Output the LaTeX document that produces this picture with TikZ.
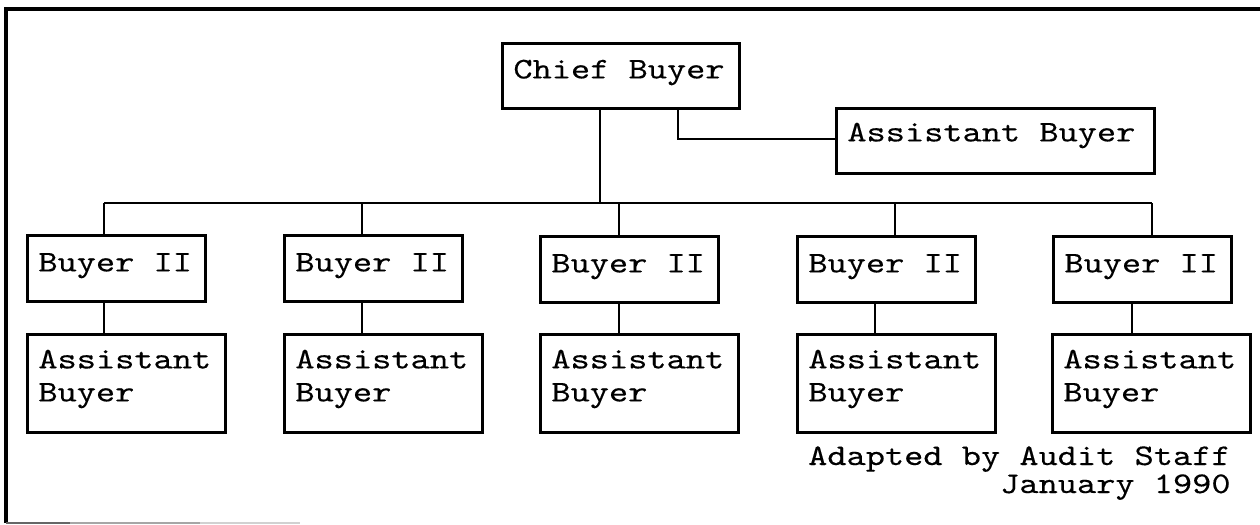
\documentclass[tikz,border=0pt]{standalone}
\usepackage{fontspec}
% typewriter face, widened to the usual Courier pitch of 9.6pt
\setmonofont{lmmono10-regular.otf}[FakeStretch=1.219, FakeBold=0.3]
\newcommand{\chartfont}[1]{\ttfamily\fontsize{15pt}{#1}\selectfont}
% one full typewriter cell of blank space between words
\newcommand{\ws}{\hspace{9.6pt}}
\begin{document}
\begin{tikzpicture}[x=0.5pt,y=-0.5pt,
  every node/.style={font=\chartfont{16.5pt}},
  post/.style={draw, line width=1.4pt, anchor=north west, align=left,
    inner xsep=5.5pt, inner ysep=0pt},
  chiefbox/.style={post, text width=107.5pt, text height=17.5pt, text depth=15pt},
  aidebox/.style={post, text width=148pt, text height=16.5pt, text depth=16pt},
  buyerbox/.style={post, text width=78pt, text height=18pt, text depth=15pt},
  helperbox/.style={post, text width=88pt, text height=17pt, text depth=32pt},
  link/.style={line width=1.1pt},
  frame/.style={line width=2.2pt}]

\useasboundingbox (0,0) rectangle (1260,525);

% page frame (left and top edges solid, bottom edge fading out)
\draw[frame] (6,523) -- (6,9) -- (1260,9);
\draw[black!60, line width=1pt] (6,523) -- (70,523);
\draw[black!35, line width=1pt] (70,523) -- (200,523);
\draw[black!18, line width=1pt] (200,523) -- (300,523);

% top of the chart
\node[chiefbox] (chief) at (501,42) {Chief\ws Buyer};
\node[aidebox]  (aide)  at (835,107) {Assistant\ws Buyer};

% buyers
\node[buyerbox] (b1) at (26,234)   {Buyer\ws II};
\node[buyerbox] (b2) at (283,234)  {Buyer\ws II};
\node[buyerbox] (b3) at (539,235)  {Buyer\ws II};
\node[buyerbox] (b4) at (796,235)  {Buyer\ws II};
\node[buyerbox] (b5) at (1052,235) {Buyer\ws II};

% assistants under each buyer
\node[helperbox] (a1) at (26,333)   {Assistant\\Buyer};
\node[helperbox] (a2) at (283,333)  {Assistant\\Buyer};
\node[helperbox] (a3) at (539,333)  {Assistant\\Buyer};
\node[helperbox] (a4) at (796,333)  {Assistant\\Buyer};
\node[helperbox] (a5) at (1051,333) {Assistant\\Buyer};

% source note
\node[anchor=base east, align=right, text width=216pt, inner sep=0pt,
  font=\chartfont{14pt}] (note) at (1231,465)
  {Adapted\ws by\ws Audit\ws Staff\\January\ws 1990};

% junction points
\coordinate (j0) at (600,203);
\coordinate (k)  at (678,139);
\coordinate (u1) at (104,203);
\coordinate (u2) at (362,203);
\coordinate (u3) at (619,203);
\coordinate (u4) at (895,203);
\coordinate (u5) at (1152,203);
\coordinate (d1) at (104,0);
\coordinate (d2) at (362,0);
\coordinate (d3) at (619,0);
\coordinate (d4) at (875,0);
\coordinate (d5) at (1132,0);

% connectors
\draw[link] (j0 |- chief.south) -- (j0);
\draw[link] (k |- chief.south) -- (k) -- (k -| aide.west);
\draw[link] (u1) -- (u5);
\foreach \i in {1,...,5} {
  \draw[link] (u\i) -- (u\i |- b\i.north);
  \draw[link] (d\i |- b\i.south) -- (d\i |- a\i.north);
}
\end{tikzpicture}
\end{document}
